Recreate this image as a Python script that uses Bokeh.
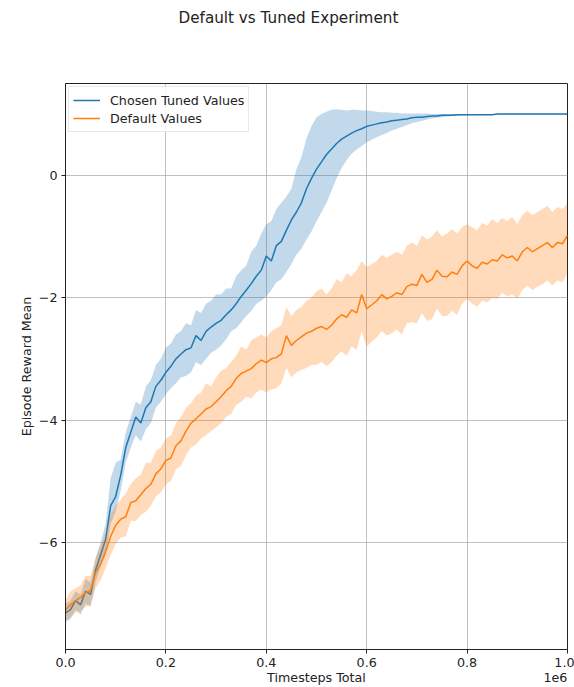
from bokeh.plotting import figure
from bokeh.models import Range1d, FixedTicker, Legend, LegendItem, Title, LinearAxis
from bokeh.embed import file_html
from bokeh.resources import INLINE

# ---------------- data ----------------
timesteps = [i * 10000 for i in range(101)]

tuned_mean = [
    -7.15, -7.10, -6.95, -7.02, -6.80, -6.85, -6.45, -6.20, -5.95, -5.40,
    -5.25, -4.90, -4.45, -4.20, -3.95, -4.05, -3.80, -3.70, -3.45, -3.35,
    -3.22, -3.12, -3.00, -2.92, -2.85, -2.82, -2.62, -2.70, -2.55, -2.48,
    -2.42, -2.37, -2.28, -2.20, -2.10, -1.98, -1.88, -1.77, -1.65, -1.55,
    -1.32, -1.40, -1.15, -1.08, -0.90, -0.73, -0.60, -0.45, -0.22, -0.05,
    0.10, 0.22, 0.34, 0.43, 0.52, 0.59, 0.64, 0.69, 0.73, 0.76,
    0.80, 0.82, 0.84, 0.86, 0.87, 0.89, 0.90, 0.91, 0.92, 0.94,
    0.95, 0.95, 0.96, 0.97, 0.97, 0.98, 0.98, 0.98, 0.99, 0.99,
    0.99, 0.99, 0.99, 0.99, 0.99, 0.99, 1.00, 1.00, 1.00, 1.00,
    1.00, 1.00, 1.00, 1.00, 1.00, 1.00, 1.00, 1.00, 1.00, 1.00,
    1.00,
]
tuned_upper = [
    -7.00, -6.95, -6.80, -6.85, -6.60, -6.65, -6.25, -6.00, -5.70, -4.95,
    -4.70, -4.65, -4.20, -3.95, -3.70, -3.75, -3.45, -3.35, -3.10, -3.00,
    -2.82, -2.75, -2.60, -2.55, -2.42, -2.45, -2.20, -2.25, -2.10, -2.05,
    -1.95, -1.95, -1.85, -1.85, -1.65, -1.55, -1.48, -1.25, -1.15, -0.95,
    -0.80, -0.75, -0.55, -0.45, -0.35, -0.22, 0.10, 0.30, 0.60, 0.80,
    0.95, 1.00, 1.04, 1.07, 1.08, 1.07, 1.06, 1.07, 1.07, 1.06,
    1.06, 1.05, 1.04, 1.03, 1.03, 1.02, 1.02, 1.01, 1.01, 1.01,
    1.01, 1.01, 1.01, 1.00, 1.00, 1.00, 1.00, 1.00, 1.00, 1.00,
    1.00, 1.00, 1.00, 1.00, 1.00, 1.00, 1.00, 1.00, 1.00, 1.00,
    1.00, 1.00, 1.00, 1.00, 1.00, 1.00, 1.00, 1.00, 1.00, 1.00,
    1.00,
]
tuned_lower = [
    -7.30, -7.25, -7.10, -7.18, -7.00, -7.05, -6.65, -6.40, -6.20, -5.70,
    -5.50, -5.15, -4.70, -4.45, -4.25, -4.35, -4.15, -4.05, -3.80, -3.70,
    -3.58, -3.48, -3.40, -3.30, -3.28, -3.22, -3.05, -3.10, -3.00, -2.90,
    -2.85, -2.78, -2.68, -2.55, -2.50, -2.40, -2.30, -2.22, -2.10, -2.05,
    -1.98, -1.88, -1.75, -1.70, -1.58, -1.45, -1.30, -1.20, -1.05, -0.92,
    -0.75, -0.60, -0.45, -0.25, -0.05, 0.12, 0.25, 0.35, 0.42, 0.48,
    0.54, 0.58, 0.62, 0.66, 0.69, 0.73, 0.76, 0.79, 0.82, 0.85,
    0.87, 0.89, 0.91, 0.93, 0.94, 0.95, 0.96, 0.97, 0.97, 0.98,
    0.98, 0.98, 0.99, 0.99, 0.99, 0.99, 0.99, 0.99, 0.99, 0.99,
    0.99, 0.99, 0.99, 0.99, 0.99, 0.99, 0.99, 0.99, 0.99, 0.99,
    0.99,
]

default_mean = [
    -7.10, -7.02, -6.95, -6.90, -6.82, -6.78, -6.50, -6.35, -6.15, -5.90,
    -5.72, -5.62, -5.58, -5.35, -5.32, -5.22, -5.12, -5.05, -4.88, -4.80,
    -4.66, -4.62, -4.42, -4.34, -4.18, -4.05, -3.98, -3.90, -3.82, -3.78,
    -3.70, -3.62, -3.52, -3.45, -3.32, -3.24, -3.20, -3.16, -3.08, -3.02,
    -3.06, -3.00, -2.98, -2.92, -2.62, -2.78, -2.70, -2.64, -2.58, -2.55,
    -2.50, -2.47, -2.52, -2.45, -2.35, -2.28, -2.32, -2.20, -2.25, -1.95,
    -2.18, -2.12, -2.05, -1.95, -2.02, -1.98, -1.92, -1.95, -1.82, -1.78,
    -1.80, -1.62, -1.75, -1.70, -1.55, -1.65, -1.66, -1.58, -1.62, -1.48,
    -1.40, -1.48, -1.52, -1.42, -1.45, -1.38, -1.40, -1.30, -1.35, -1.32,
    -1.40, -1.25, -1.18, -1.25, -1.20, -1.15, -1.10, -1.18, -1.10, -1.12,
    -0.98,
]
default_upper = [
    -6.95, -6.80, -6.75, -6.70, -6.55, -6.55, -6.25, -6.05, -5.85, -5.55,
    -5.40, -5.30, -5.20, -5.05, -4.95, -4.90, -4.70, -4.70, -4.50, -4.45,
    -4.30, -4.25, -4.05, -3.95, -3.80, -3.72, -3.60, -3.55, -3.40, -3.45,
    -3.30, -3.20, -3.15, -3.05, -2.95, -2.80, -2.85, -2.70, -2.65, -2.60,
    -2.65, -2.55, -2.50, -2.45, -2.15, -2.30, -2.20, -2.15, -2.05, -2.00,
    -1.90, -1.85, -1.95, -1.85, -1.70, -1.75, -1.60, -1.65, -1.55, -1.40,
    -1.50, -1.45, -1.40, -1.30, -1.35, -1.30, -1.25, -1.30, -1.15, -1.10,
    -1.15, -0.98, -1.05, -1.00, -0.90, -1.00, -0.95, -0.88, -0.95, -0.85,
    -0.80, -0.85, -0.90, -0.78, -0.82, -0.72, -0.78, -0.70, -0.75, -0.68,
    -0.80, -0.65, -0.58, -0.65, -0.60, -0.55, -0.50, -0.60, -0.52, -0.55,
    -0.45,
]
default_lower = [
    -7.28, -7.22, -7.15, -7.12, -7.05, -7.02, -6.75, -6.62, -6.42, -6.20,
    -6.02, -5.92, -5.90, -5.65, -5.65, -5.55, -5.50, -5.40, -5.25, -5.18,
    -5.05, -5.00, -4.80, -4.75, -4.58, -4.45, -4.40, -4.30, -4.25, -4.18,
    -4.12, -4.05, -3.95, -3.90, -3.75, -3.70, -3.62, -3.65, -3.55, -3.50,
    -3.55, -3.50, -3.48, -3.40, -3.15, -3.30, -3.22, -3.18, -3.15, -3.10,
    -3.10, -3.05, -3.12, -3.05, -2.95, -2.88, -2.95, -2.80, -2.85, -2.55,
    -2.80, -2.72, -2.65, -2.55, -2.62, -2.58, -2.52, -2.60, -2.42, -2.40,
    -2.42, -2.25, -2.38, -2.35, -2.18, -2.30, -2.30, -2.22, -2.28, -2.10,
    -2.02, -2.10, -2.15, -2.05, -2.08, -2.00, -2.02, -1.92, -1.98, -1.95,
    -2.02, -1.88, -1.80, -1.88, -1.82, -1.78, -1.72, -1.80, -1.72, -1.75,
    -1.60,
]

x_ticks = [0, 200000, 400000, 600000, 800000, 1000000]
x_tick_labels = ["0.0", "0.2", "0.4", "0.6", "0.8", "1.0"]
y_ticks = [-6, -4, -2, 0]
y_tick_labels = ["\u22126", "\u22124", "\u22122", "0"]

series_names = ["Chosen Tuned Values", "Default Values"]
x_label = "Timesteps Total"
x_offset_text = "1e6"
BLUE = "#1f77b4"
ORANGE = "#ff7f0e"
FONT = "DejaVu Sans"
FS = "12.7px"
INK = "#222222"
X_END = 1000000

# ---------------- figure ----------------
p = figure(
    width=574, height=687,
    x_range=Range1d(0, X_END), y_range=Range1d(-7.75, 1.5),
    output_backend="svg", toolbar_location=None,
    min_border_left=65, min_border_right=7,
    min_border_top=83, min_border_bottom=37,
)
p.background_fill_color = "white"
p.border_fill_color = "white"
p.outline_line_color = INK
p.outline_line_width = 1

# spacer between the frame and the title
p.add_layout(Title(text=" ", text_font_size="15.2px", standoff=32), "above")

p.title.text = "Default vs Tuned Experiment"
p.title.text_font = FONT
p.title.text_font_size = "15.2px"
p.title.text_font_style = "normal"
p.title.text_color = INK
p.title.align = "left"
p.title.offset = 113
p.title.standoff = 11

# bands and lines
p.varea(x=timesteps, y1=tuned_lower, y2=tuned_upper, fill_color=BLUE, fill_alpha=0.28)
r_tuned = p.line(timesteps, tuned_mean, line_color=BLUE, line_width=1.5)
p.varea(x=timesteps, y1=default_lower, y2=default_upper, fill_color=ORANGE, fill_alpha=0.28)
r_default = p.line(timesteps, default_mean, line_color=ORANGE, line_width=1.5)

# axes
xax = p.xaxis[0]
yax = p.yaxis[0]
xax.ticker = FixedTicker(ticks=x_ticks)
xax.major_label_overrides = {t: l for t, l in zip(x_ticks, x_tick_labels)}
yax.ticker = FixedTicker(ticks=y_ticks)
yax.major_label_overrides = {t: l for t, l in zip(y_ticks, y_tick_labels)}
yax.axis_label = "Episode Reward Mean"
for ax in (xax, yax):
    ax.axis_line_color = INK
    ax.major_tick_line_color = INK
    ax.major_tick_out = 4
    ax.major_tick_in = 0
    ax.minor_tick_out = 0
    ax.minor_tick_in = 0
    ax.major_label_text_font = FONT
    ax.major_label_text_font_size = FS
    ax.major_label_text_color = INK
    ax.axis_label_text_font = FONT
    ax.axis_label_text_font_size = FS
    ax.axis_label_text_font_style = "normal"
    ax.axis_label_text_color = INK
yax.major_label_standoff = 4
xax.major_label_standoff = 4
yax.axis_label_standoff = 2

p.grid.grid_line_color = "#b0b0b0"
p.grid.grid_line_width = 0.8

# x-axis label row: "Timesteps Total" centred under the frame, offset text "1e6" at the right end
label_ticks = [X_END // 2, X_END - 24000]
label_axis = LinearAxis(
    ticker=FixedTicker(ticks=label_ticks),
    major_label_overrides={label_ticks[0]: x_label, label_ticks[1]: x_offset_text},
    axis_line_color=None, major_tick_line_color=None, minor_tick_line_color=None,
    major_tick_out=0, major_tick_in=0, minor_tick_out=0, minor_tick_in=0,
    major_label_standoff=0,
    major_label_text_font=FONT, major_label_text_font_size=FS,
    major_label_text_color=INK,
)
p.add_layout(label_axis, "below")

legend = Legend(items=[LegendItem(label=series_names[0], renderers=[r_tuned]),
                       LegendItem(label=series_names[1], renderers=[r_default])],
                location="top_left")
legend.label_text_font = FONT
legend.label_text_font_size = FS
legend.label_text_color = INK
legend.border_line_color = "#d0d0d0"
legend.background_fill_alpha = 0.8
legend.margin = 3
legend.padding = 4
legend.spacing = 0
legend.label_height = 18
legend.glyph_height = 18
legend.glyph_width = 27
legend.label_standoff = 10
p.add_layout(legend)

open("out.html", "w").write(file_html(p, INLINE))
